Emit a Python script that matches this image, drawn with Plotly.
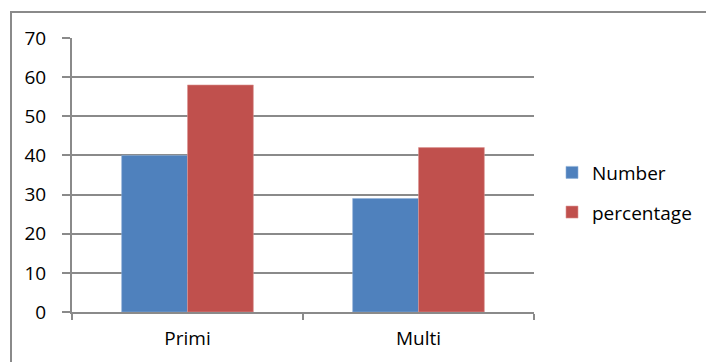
import plotly.graph_objects as go

categories = ["Primi", "Multi"]
number_values = [40, 29]
percentage_values = [58, 42]
y_ticks = [0, 10, 20, 30, 40, 50, 60, 70]

W, H = 706, 362
L, R, T, B = 72, 172, 38, 50
pw, ph = W - L - R, H - T - B

grey = "#8a8a8a"
font = dict(family="Open Sans", size=19, color="#000000")

fig = go.Figure()
fig.add_trace(go.Bar(
    x=categories, y=number_values, name="Number", legendgroup="a",
    marker=dict(color="#4F81BD", line=dict(color="#8fb0d8", width=0.6)),
))
fig.add_trace(go.Bar(
    x=categories, y=percentage_values, name="percentage", legendgroup="b",
    marker=dict(color="#C0504D", line=dict(color="#dc9593", width=0.6)),
))

# outer chart frame (left and top edges visible)
fx0 = (11 - L) / pw
fx1 = (W + 5 - L) / pw
fy1 = (H - B - 12) / ph
fy0 = (H - B - (H + 5)) / ph
fig.add_shape(type="rect", xref="paper", yref="paper",
              x0=fx0, x1=fx1, y0=fy0, y1=fy1,
              line=dict(color=grey, width=2), layer="below")

fig.update_layout(
    width=W, height=H,
    margin=dict(l=L, r=R, t=T, b=B, autoexpand=False),
    paper_bgcolor="white", plot_bgcolor="white",
    barmode="group", bargap=0.43, bargroupgap=0,
    font=font,
    showlegend=True,
    legend=dict(x=(552 - L) / pw, y=0.436, xanchor="left", yanchor="middle",
                font=font, tracegroupgap=12, itemwidth=30,
                bgcolor="rgba(0,0,0,0)"),
    xaxis=dict(
        type="category", showgrid=False, showline=True, linecolor=grey,
        linewidth=2, ticks="outside", tickson="boundaries", ticklen=6,
        tickcolor=grey, tickwidth=2, ticklabelstandoff=8,
        tickfont=font, range=[-0.5, 1.5],
    ),
    yaxis=dict(
        range=[0, 70], tickvals=y_ticks, showgrid=True, gridcolor=grey,
        gridwidth=1.5, showline=True, linecolor=grey, linewidth=2,
        ticks="outside", ticklen=8, tickcolor=grey, tickwidth=2,
        zeroline=False, ticklabelstandoff=12, tickfont=font,
    ),
)

fig.write_html("out.html")
